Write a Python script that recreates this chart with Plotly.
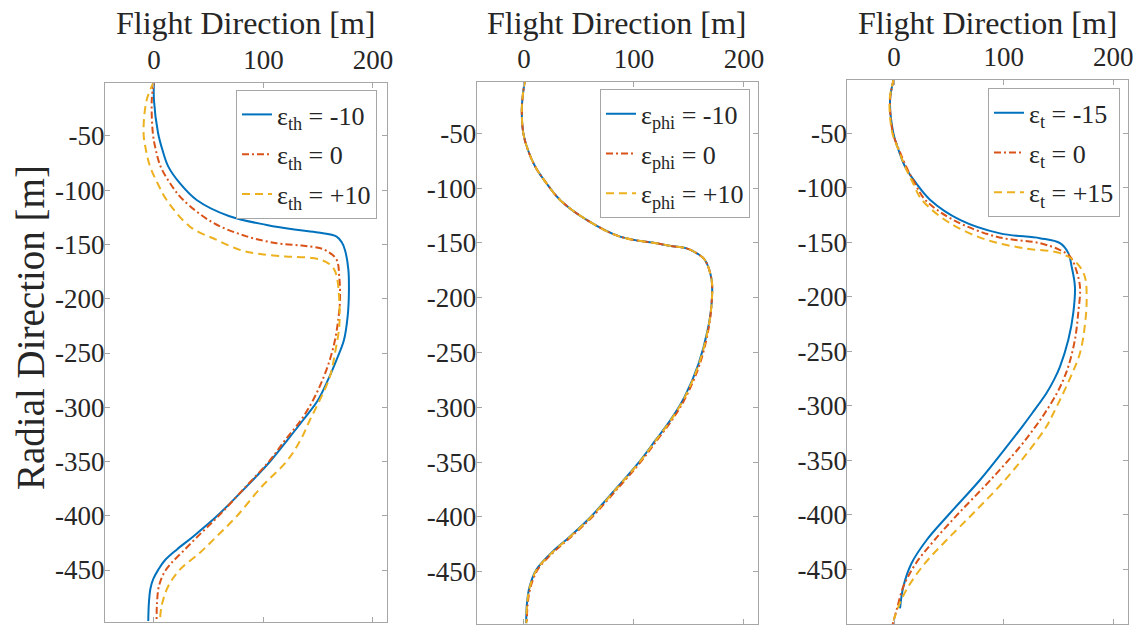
import plotly.graph_objects as go

# ---------------- data ----------------
# Panel 1: epsilon_th
p1_blue_y = [0, -17, -47, -62, -78, -94, -109, -124, -132, -136.5, -139, -142.7, -148, -155, -173, -195, -216, -238, -256, -274.6, -293, -311.5, -330, -350, -373, -400.5, -419, -431, -441, -449.6, -458, -467, -480, -497]
p1_blue_x = [0, 0, 3.7, 7.5, 13, 24, 39, 69, 103, 130, 150, 166.8, 171.5, 174.4, 177.5, 178, 176.9, 173.5, 166.8, 159, 150, 136.4, 122, 106, 84.6, 57.3, 35.9, 21, 10, 4, -0.5, -3.2, -4.6, -5.2]

p1_red_y = [0, -17, -47.5, -62, -78, -94, -109, -130, -142.5, -148.8, -151, -153, -156, -164, -179.5, -201, -219, -238, -256, -274.6, -293, -311.5, -330, -350, -373, -400.5, -419, -434, -444, -453, -465, -480, -497]
p1_red_x = [0, -2, -1, 1.5, 6, 15, 26.8, 54, 84.6, 112, 135, 150, 158, 166.8, 169.2, 169.9, 168.3, 165.3, 160.7, 154, 145.5, 134.5, 120, 105, 84, 58.7, 40, 25.3, 15.5, 9, 4.5, 2.8, 2.4]

p1_yel_y = [0, -17, -47, -62, -78, -94, -109, -133.6, -145.8, -155, -158.5, -161, -162.5, -166, -172, -180, -201, -225.5, -250, -271.6, -293, -311.5, -330, -350, -373, -400.5, -419, -434, -449.6, -465, -483, -497]
p1_yel_x = [0, -6.7, -9.5, -7.5, -3.6, 3.5, 11.6, 32.9, 57.3, 78.5, 95, 120, 145, 157, 164, 167, 169.2, 169.2, 165.3, 160.7, 151.6, 142.5, 134, 121, 98.5, 75.5, 57.3, 42, 23.7, 13, 7, 5.5]

# Panel 2: epsilon_phi
p2_red_y = [0, -15, -28.6, -50, -65, -80, -95, -111, -129, -144.3, -150.4, -153, -155, -160, -165.6, -183.8, -205, -229.5, -260, -290, -311, -330, -350, -372, -400, -418, -433, -448, -464, -480, -497]
p2_red_x = [1, -1, -2, -0.6, 3.5, 10, 20, 33, 57, 87.3, 120.6, 135, 147.9, 158, 164.5, 170.6, 170.6, 167.6, 160, 147.5, 135, 121, 106, 87, 62, 43, 26, 12.5, 6, 3.3, 2.6]

p2_blue_y = p2_red_y
p2_blue_x = [1, -1, -2, -0.6, 3.5, 10, 20, 33, 57, 87.3, 120.6, 135, 147.9, 158, 164.5, 170.6, 170.6, 167, 158.8, 146.2, 133.6, 119.6, 104.6, 85.6, 60.6, 41.6, 24.6, 11.3, 5, 2.6, 2]

p2_yel_y = p2_red_y
p2_yel_x = [1, -1, -2, -0.6, 3.5, 10, 20, 33, 57, 87.3, 120.6, 135, 147.9, 158, 164.5, 170.6, 170.6, 167.2, 159.2, 146.6, 134, 120, 105, 86, 61, 42, 25, 11.6, 5.3, 2.8, 2.2]

# Panel 3: epsilon_t
p3_blue_y = [0, -19.4, -50, -65, -80.6, -95, -111, -129.5, -141.9, -146.3, -150.9, -160, -172.3, -190.6, -215, -239.5, -264, -276, -288.5, -306.8, -319, -337.4, -368, -398.5, -423, -444.3, -465.8, -485.6]
p3_blue_x = [0, -3.6, -0.6, 4, 10, 19.5, 32.8, 60.2, 96.7, 133, 151.4, 159, 162, 165, 163.5, 159, 151.4, 146, 139, 126, 117, 102.8, 78.4, 51, 29.8, 16, 8.5, 5.5]

p3_red_y = [0, -19.4, -50, -65, -80.6, -95, -111, -129.5, -145, -150.9, -157, -163, -172, -190.6, -215, -239.5, -264, -276, -288.5, -306.8, -319, -337.4, -368, -398.5, -423, -444.3, -465.8, -487, -500]
p3_red_x = [0, -3.6, -1, 4.5, 11, 18.5, 28.3, 54, 93.6, 133, 151, 160.5, 165, 169.6, 168, 165, 159, 154.5, 148.5, 137.5, 129, 115, 88, 59, 37, 20, 8.5, 2.4, -1.2]

p3_yel_y = [0, -19.4, -50, -65, -80.6, -95, -111, -132.5, -147.8, -155.5, -160, -169, -181.5, -203, -227, -251.7, -276, -306.8, -319, -337.4, -368, -398.5, -423, -444.3, -465.8, -484, -500]
p3_yel_x = [0, -4, -1.5, 4, 10, 17, 25.3, 51, 84.5, 118, 151.4, 166.6, 174, 175.7, 174, 169.6, 160, 145.4, 139, 126, 101.2, 72.3, 48, 28.3, 13, 4, -1.2]

x_ticks = [0, 100, 200]
x_tick_text = ["0", "100", "200"]
y_ticks_12 = [-450, -400, -350, -300, -250, -200, -150, -100, -50]
y_tick_text_12 = ["-450", "-400", "-350", "-300", "-250", "-200", "-150", "-100", "-50"]
y_ticks_3 = [-500, -450, -400, -350, -300, -250, -200, -150, -100, -50]
y_tick_text_3 = ["-500", "-450", "-400", "-350", "-300", "-250", "-200", "-150", "-100", "-50"]

names1 = ["ε<sub>th</sub> = -10", "ε<sub>th</sub> = 0", "ε<sub>th</sub> = +10"]
names2 = ["ε<sub>phi</sub> = -10", "ε<sub>phi</sub> = 0", "ε<sub>phi</sub> = +10"]
names3 = ["ε<sub>t</sub> = -15", "ε<sub>t</sub> = 0", "ε<sub>t</sub> = +15"]

x_title = "Flight Direction [m]"
y_title = "Radial Direction [m]"

# ---------------- styling ----------------
BLUE = "#0072BD"
RED = "#D95319"
YEL = "#EDB120"
FONT = "Liberation Serif"
TXT = "#262626"
AX = "#a6a6a6"

styles = [
    dict(color=BLUE, width=2, dash="solid"),
    dict(color=RED, width=2, dash="7px,3px,2px,3px"),
    dict(color=YEL, width=2, dash="8px,5px"),
]

fig = go.Figure()

panels = [
    ([(p1_blue_x, p1_blue_y), (p1_red_x, p1_red_y), (p1_yel_x, p1_yel_y)], names1, "x", "y", "legend"),
    ([(p2_blue_x, p2_blue_y), (p2_red_x, p2_red_y), (p2_yel_x, p2_yel_y)], names2, "x2", "y2", "legend2"),
    ([(p3_blue_x, p3_blue_y), (p3_red_x, p3_red_y), (p3_yel_x, p3_yel_y)], names3, "x3", "y3", "legend3"),
]

for pi, (series, names, xa, ya, lg) in enumerate(panels):
    for si, ((xs, ys), nm, st) in enumerate(zip(series, names, styles)):
        fig.add_trace(go.Scatter(
            x=xs, y=ys, mode="lines", name=nm,
            line=dict(color=st["color"], width=st["width"], dash=st["dash"], shape="spline", smoothing=1.0),
            xaxis=xa, yaxis=ya, legend=lg, legendgroup=f"g{pi}{si}",
        ))

W, H = 1138, 638
xdoms = [(105 / W, 387 / W), (476.7 / W, 757.7 / W), (847.3 / W, 1128.3 / W)]
ydoms = [(1 - 621.7 / H, 1 - 83 / H), (1 - 623.7 / H, 1 - 82 / H), (1 - 624 / H, 1 - 80 / H)]
xranges = [[-44.7, 212.8], [-43, 212.5], [-42.6, 213.7]]
yranges = [[-497.6, -1.2], [-497.4, -3.2], [-500, -1.3]]
yticks = [(y_ticks_12, y_tick_text_12), (y_ticks_12, y_tick_text_12), (y_ticks_3, y_tick_text_3)]

common = dict(
    showline=True, linecolor=AX, linewidth=1, mirror="ticks",
    ticks="inside", ticklen=5, tickcolor=AX, tickwidth=1,
    showgrid=False, zeroline=False,
    tickfont=dict(family=FONT, size=27, color=TXT),
    automargin=False,
)

layout = dict(
    width=W, height=H,
    margin=dict(l=0, r=0, t=0, b=0),
    paper_bgcolor="white", plot_bgcolor="white",
    showlegend=True,
)

for i in range(3):
    sfx = "" if i == 0 else str(i + 1)
    layout["xaxis" + sfx] = dict(
        domain=list(xdoms[i]), range=xranges[i], side="top",
        anchor="y" + sfx, tickvals=x_ticks, ticktext=x_tick_text,
        ticklabelstandoff=2, **common,
    )
    layout["yaxis" + sfx] = dict(
        domain=list(ydoms[i]), range=yranges[i],
        anchor="x" + sfx, tickvals=yticks[i][0], ticktext=yticks[i][1],
        ticklabelstandoff=-6, **common,
    )

leg_pos = [(377 / W, 1 - 90 / H), (750 / W, 1 - 89.3 / H), (1120 / W, 1 - 88.3 / H)]
for i, (lx, ly) in enumerate(leg_pos):
    key = "legend" if i == 0 else "legend" + str(i + 1)
    layout[key] = dict(
        x=lx, y=ly, xanchor="right", yanchor="top",
        bgcolor="white", bordercolor=AX, borderwidth=1,
        font=dict(family=FONT, size=26, color=TXT),
        itemwidth=30, tracegroupgap=3,
    )

fig.update_layout(**layout)

ann = []
for i in range(3):
    cx = (xdoms[i][0] + xdoms[i][1]) / 2
    ann.append(dict(text=x_title, x=cx, y=1 - 23 / H, xref="paper", yref="paper",
                    xanchor="center", yanchor="middle", showarrow=False,
                    font=dict(family=FONT, size=32, color=TXT)))
ann.append(dict(text=y_title, x=30 / W, y=1 - 328 / H, xref="paper", yref="paper",
                xanchor="center", yanchor="middle", showarrow=False, textangle=-90,
                font=dict(family=FONT, size=39, color=TXT)))
fig.update_layout(annotations=ann)

fig.write_html("out.html", config={"displayModeBar": False},
               post_script="document.body.style.margin='0px';")
